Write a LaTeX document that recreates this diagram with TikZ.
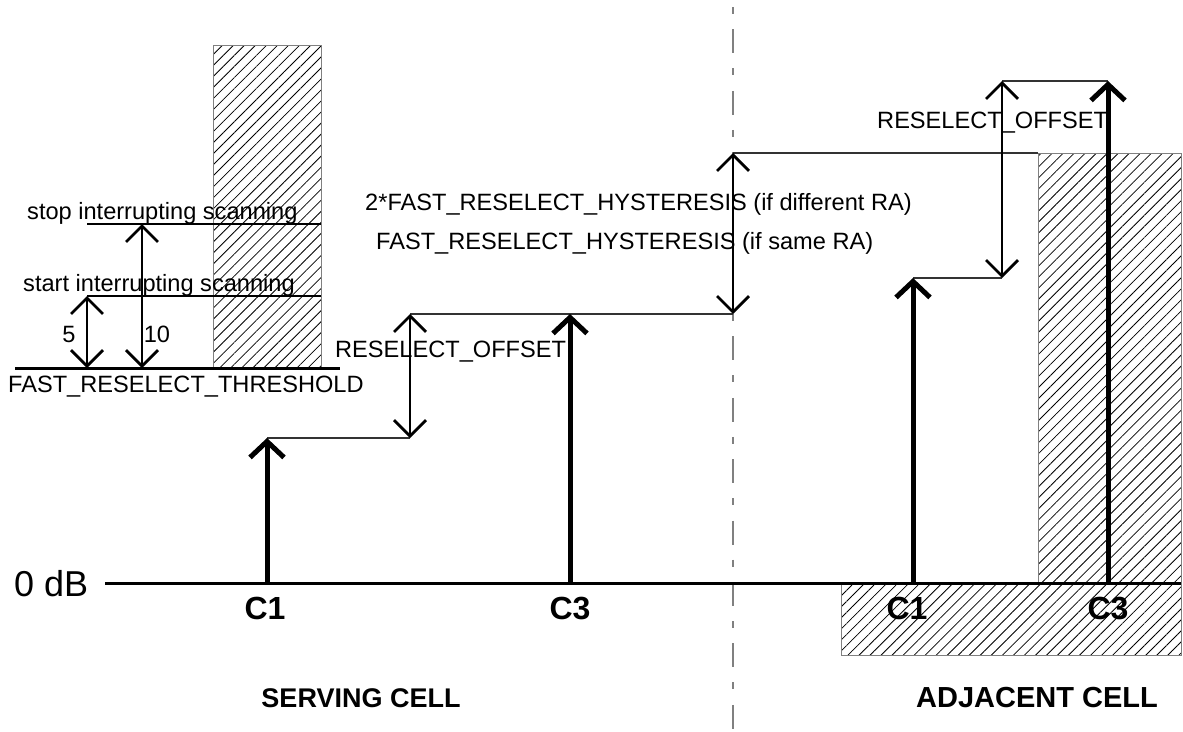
\documentclass[tikz,border=0pt]{standalone}
\usepackage{fontspec}
\setmainfont{Liberation Sans}
\usetikzlibrary{arrows.meta,patterns.meta}
\definecolor{rulegray}{HTML}{808080}
\begin{document}
\begin{tikzpicture}[x=1pt,y=-1pt,
  txt/.style={inner sep=0pt,font=\fontsize{23.6}{28}\selectfont},
  dbtxt/.style={inner sep=0pt,font=\fontsize{36}{40}\selectfont},
  celltitle/.style={inner sep=0pt,font=\fontsize{27}{32}\selectfont\bfseries},
  clabel/.style={inner sep=0pt,font=\fontsize{32}{38}\selectfont\bfseries},
  hatched/.style={draw=rulegray,line width=1pt,
    pattern={Lines[angle=45,distance=7.8pt,line width=0.8pt]}},
  level/.style={draw=black!80,line width=1.1pt},
  thickrule/.style={draw=black,line width=3pt},
  midrule/.style={draw=black,line width=2.5pt},
  signal/.style={draw=black,line width=5pt,
    -{Straight Barb[length=16pt,width=34pt,line width=5pt]}},
  span/.style={draw=black,line width=2.8pt,
    {Straight Barb[length=16pt,width=32pt,line width=2.8pt]}-{Straight Barb[length=16pt,width=32pt,line width=2.8pt]}},
  cellsplit/.style={draw=rulegray,line width=1.5pt,
    dash pattern=on 24pt off 15pt on 7pt off 15.4pt,dash phase=32pt}
]
\useasboundingbox (0,0) rectangle (1183,731);

% ---- reference points ----
\coordinate (zeroL) at (105,583);   \coordinate (zeroR) at (1181,583);
\coordinate (thrL) at (15,368);     \coordinate (thrR) at (340,368);
\coordinate (startL) at (87,296);   \coordinate (startR) at (321,296);
\coordinate (stopL) at (87,224);    \coordinate (stopR) at (321,224);
\coordinate (fiveBot) at (87,368);
\coordinate (tenTop) at (142,224);  \coordinate (tenBot) at (142,368);

\coordinate (sC1base) at (267,583); \coordinate (sC1top) at (267,438);
\coordinate (sOffTop) at (410,314); \coordinate (sOffBot) at (410,438);
\coordinate (sC3base) at (570,583); \coordinate (sC3top) at (570,314);
\coordinate (hysTop) at (733,153);  \coordinate (hysBot) at (733,314);
\coordinate (splitTop) at (733,0);  \coordinate (splitBot) at (733,731);

\coordinate (aC1base) at (913,583); \coordinate (aC1top) at (913,278);
\coordinate (aOffTop) at (1002,81); \coordinate (aOffBot) at (1002,278);
\coordinate (aC3base) at (1108,583);\coordinate (aC3top) at (1108,81);

% ---- hatched areas ----
\path[hatched] (213,45) rectangle (321,368);
\path[hatched] (1038,153) coordinate (barTL) rectangle (1181,583);
\path[hatched] (841,583) rectangle (1181,655);

% ---- cell separator ----
\draw[cellsplit] (splitTop) -- (splitBot);

% ---- threshold levels ----
\draw[thickrule] (thrL) -- (thrR);
\draw[midrule] (startL) -- (startR);
\draw[midrule] (stopL) -- (stopR);
\draw[span] (startL) -- (fiveBot);
\draw[span] (tenTop) -- (tenBot);

% ---- 0 dB axis ----
\draw[thickrule] (zeroL) -- (zeroR);

% ---- level connectors ----
\draw[level] (sC1top) -- (sOffBot);
\draw[level] (sOffTop) -- (hysBot);
\draw[level] (hysTop) -- (barTL);
\draw[level] (aC1top) -- (aOffBot);
\draw[level] (aOffTop) -- (aC3top);

% ---- offsets and hysteresis ----
\draw[span] (sOffTop) -- (sOffBot);
\draw[span] (hysTop) -- (hysBot);
\draw[span] (aOffTop) -- (aOffBot);

% ---- C1 / C3 values ----
\draw[signal] (sC1base) -- (sC1top);
\draw[signal] (sC3base) -- (sC3top);
\draw[signal] (aC1base) -- (aC1top);
\draw[signal] (aC3base) -- (aC3top);

% ---- labels ----
\node[txt,anchor=west] (stopTxt) at (27,213) {stop interrupting scanning};
\node[txt,anchor=west] (startTxt) at (23,285) {start interrupting scanning};
\node[txt] (fiveTxt) at (69,334) {5};
\node[txt] (tenTxt) at (157,334) {10};
\node[txt,anchor=west] (thrTxt) at (8,387) {FAST\_RESELECT\_THRESHOLD};
\node[txt,anchor=west] (sOffTxt) at (335,352) {RESELECT\_OFFSET};
\node[txt,anchor=west] (hysTxtA) at (365,204) {2*FAST\_RESELECT\_HYSTERESIS (if different RA)};
\node[txt,anchor=west] (hysTxtB) at (376,243) {FAST\_RESELECT\_HYSTERESIS (if same RA)};
\node[txt,anchor=west] (aOffTxt) at (877,123) {RESELECT\_OFFSET};
\node[dbtxt,anchor=west] (dbTxt) at (14,584) {0 dB};

\node[clabel] (sC1Txt) at (265,608) {C1};
\node[clabel] (sC3Txt) at (570,608) {C3};
\node[clabel] (aC1Txt) at (907,608) {C1};
\node[clabel] (aC3Txt) at (1108,608) {C3};

\node[celltitle] (servTxt) at (361,698) {SERVING CELL};
\node[celltitle,font=\fontsize{29}{34}\selectfont\bfseries] (adjTxt) at (1037,698) {ADJACENT CELL};
\end{tikzpicture}
\end{document}
